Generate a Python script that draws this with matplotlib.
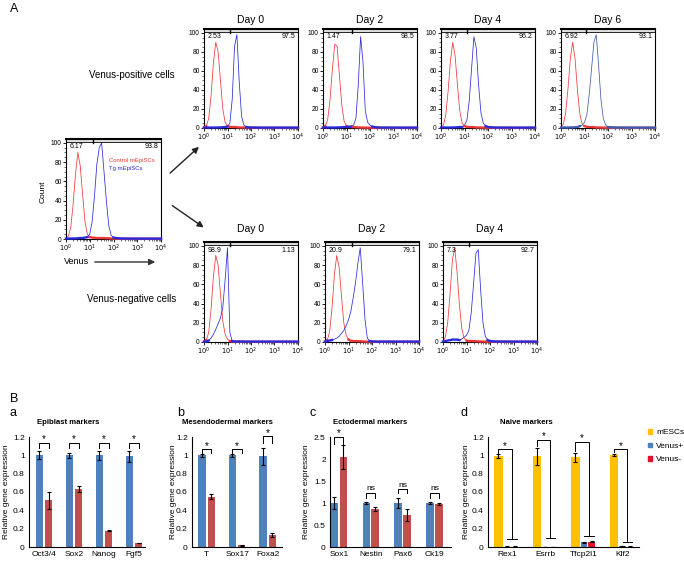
import numpy as np
import matplotlib.pyplot as plt
from matplotlib.ticker import MultipleLocator, FixedLocator
from matplotlib.patches import Patch

plt.rcParams['font.family'] = ['Liberation Sans', 'DejaVu Sans']

W, H = 684, 562

# ---------------- data: flow histograms (x in log10 decades, y = % of max) ----------------
decades = [0.0, 0.1, 0.2, 0.3, 0.4, 0.5, 0.6, 0.7, 0.8, 0.9, 1.0, 1.1, 1.2, 1.3, 1.4,
           1.5, 1.6, 1.7, 1.8, 1.9, 2.0, 2.1, 2.2, 2.3, 2.4, 3.0, 4.0]

red_ctrl = [1, 3, 12, 36, 68, 90, 76, 46, 18, 5, 2, 1.5, 1.2, 1, 1, 1, 1, 0.8, 0.8, 0.5, 0.4, 0.3, 0.3, 0.2, 0.2, 0.2, 0.2]
blue_tg = [0.5, 0.5, 0.5, 0.6, 0.6, 0.8, 1, 1, 1.5, 2, 5, 18, 45, 78, 95, 100, 70, 40, 14, 4, 1.5, 1, 0.8, 0.6, 0.5, 0.4, 0.4]

red_p0 = [0.5, 2, 10, 34, 68, 90, 80, 50, 20, 6, 2, 1.2, 1, 1, 0.8, 0.6, 0.5, 0.5, 0.4, 0.4, 0.3, 0.3, 0.3, 0.2, 0.2, 0.2, 0.2]
blue_p0 = [0.5, 0.5, 0.5, 0.5, 0.5, 0.5, 0.6, 0.6, 0.8, 1, 1.5, 5, 30, 86, 98, 48, 12, 3, 1, 0.6, 0.5, 0.5, 0.5, 0.4, 0.4, 0.4, 0.4]
red_p2 = [0.5, 2, 9, 30, 62, 88, 86, 55, 24, 7, 2, 1.2, 1, 1, 0.8, 0.6, 0.5, 0.5, 0.4, 0.4, 0.3, 0.3, 0.3, 0.2, 0.2, 0.2, 0.2]
blue_p2 = [0.5, 0.5, 0.5, 0.5, 0.5, 0.5, 0.6, 0.6, 0.8, 1, 1, 1.2, 1.5, 3, 10, 45, 96, 70, 18, 6, 3, 1.5, 1, 0.6, 0.5, 0.4, 0.4]
red_p4 = [0.5, 3, 13, 38, 70, 90, 76, 45, 18, 5, 2, 1.2, 1, 1, 0.8, 0.6, 0.5, 0.5, 0.4, 0.4, 0.3, 0.3, 0.3, 0.2, 0.2, 0.2, 0.2]
blue_p4 = [0.5, 0.5, 0.5, 0.5, 0.5, 0.6, 0.6, 0.8, 1, 1, 3, 8, 28, 62, 96, 84, 45, 16, 5, 2, 1, 0.8, 0.6, 0.5, 0.5, 0.4, 0.4]
red_p6 = [1, 4, 16, 42, 74, 90, 72, 40, 15, 4, 2, 1.2, 1, 1, 0.8, 0.6, 0.5, 0.5, 0.4, 0.4, 0.3, 0.3, 0.3, 0.2, 0.2, 0.2, 0.2]
blue_p6 = [0.5, 0.5, 0.5, 0.5, 0.6, 0.6, 0.8, 1, 2, 3, 6, 14, 35, 62, 90, 98, 66, 30, 10, 3, 1, 0.8, 0.6, 0.5, 0.5, 0.4, 0.4]

red_n0 = [0.5, 2, 10, 34, 68, 90, 80, 50, 22, 8, 3, 1, 0.5, 0.5, 0.4, 0.4, 0.3, 0.3, 0.3, 0.2, 0.2, 0.2, 0.2, 0.2, 0.2, 0.2, 0.2]
blue_n0 = [0.5, 0.5, 1.5, 4, 8, 13, 19, 25, 36, 65, 98, 10, 1, 0.5, 0.5, 0.5, 0.5, 0.4, 0.4, 0.4, 0.4, 0.4, 0.4, 0.4, 0.4, 0.4, 0.4]
red_n2 = [0.5, 2, 11, 36, 70, 90, 78, 48, 20, 7, 2.5, 1.2, 1, 1, 0.8, 0.8, 0.6, 0.5, 0.4, 0.4, 0.3, 0.3, 0.3, 0.2, 0.2, 0.2, 0.2]
blue_n2 = [0.5, 1, 1.5, 2, 3, 4, 6, 9, 12, 17, 23, 32, 46, 62, 82, 98, 62, 24, 4, 1, 0.5, 0.5, 0.4, 0.4, 0.4, 0.4, 0.4]
red_n4 = [1, 5, 20, 50, 85, 98, 72, 38, 14, 4, 1.5, 1, 1, 0.8, 0.8, 0.6, 0.5, 0.5, 0.4, 0.4, 0.3, 0.3, 0.3, 0.2, 0.2, 0.2, 0.2]
blue_n4 = [0.5, 1, 1.5, 2, 2.5, 2.5, 2.5, 2, 3, 5, 7, 12, 30, 60, 92, 96, 55, 20, 6, 2, 1, 0.8, 0.6, 0.5, 0.5, 0.4, 0.4]

gates = [1.12, 1.12, 1.25, 1.10, 1.08, 1.10, 1.15, 1.11]
pct_lo = ['6.17', '2.53', '1.47', '3.77', '6.92', '98.9', '20.9', '7.3']
pct_hi = ['93.8', '97.5', '98.5', '96.2', '93.1', '1.13', '79.1', '92.7']
days_pos = ['Day 0', 'Day 2', 'Day 4', 'Day 6']
days_neg = ['Day 0', 'Day 2', 'Day 4']

# ---------------- data: qPCR bars ----------------
a_genes = ['Oct3/4', 'Sox2', 'Nanog', 'Fgf5']
a_pos = [1.0, 1.0, 1.0, 0.99]
a_pos_err = [0.045, 0.03, 0.05, 0.06]
a_neg = [0.51, 0.63, 0.18, 0.044]
a_neg_err = [0.09, 0.035, 0.005, 0.005]

b_genes = ['T', 'Sox17', 'Foxa2']
b_pos = [1.0, 1.0, 0.99]
b_pos_err = [0.02, 0.015, 0.09]
b_neg = [0.55, 0.02, 0.13]
b_neg_err = [0.03, 0.005, 0.02]

c_genes = ['Sox1', 'Nestin', 'Pax6', 'Ck19']
c_pos = [1.0, 1.0, 1.0, 1.0]
c_pos_err = [0.14, 0.03, 0.12, 0.02]
c_neg = [2.05, 0.86, 0.72, 0.97]
c_neg_err = [0.27, 0.04, 0.14, 0.02]
c_sig = ['*', 'ns', 'ns', 'ns']

d_genes = ['Rex1', 'Esrrb', 'Tfcp2l1', 'Klf2']
d_mesc = [0.99, 0.99, 0.98, 1.0]
d_mesc_err = [0.02, 0.09, 0.05, 0.012]
d_vpos = [0.005, 0.0, 0.05, 0.01]
d_vpos_err = [0.002, 0.0, 0.008, 0.003]
d_vneg = [0.005, 0.0, 0.06, 0.004]
d_vneg_err = [0.002, 0.0, 0.01, 0.002]

# ---------------- drawing ----------------
fig = plt.figure(figsize=(W / 100, H / 100), dpi=100)


def box(l, t, r, b):
    return [l / W, 1 - b / H, (r - l) / W, (b - t) / H]


def ftext(x, y, s, **kw):
    fig.text(x / W, 1 - y / H, s, **kw)


RED = '#EE3838'
BLUE = '#2A2ADC'


def flow(rect, red, blue, gate, lo, hi, blue_col=BLUE):
    ax = fig.add_axes(box(*rect))
    x = np.array(decades)
    red = np.array(red, float)
    blue = np.array(blue, float)
    ax.plot(x, red, color=RED, lw=0.55)
    ax.plot(x, np.where(red < 3, red, np.nan), color=RED, lw=1.7, zorder=3, clip_on=False)
    ax.plot(x, blue, color=blue_col, lw=0.55)
    ax.plot(x, np.where(blue < 3, blue, np.nan), color=blue_col, lw=1.7, zorder=3, clip_on=False)
    ax.set_xlim(0, 4)
    ax.set_ylim(0, 104)
    ax.axhspan(101.2, 104, color='#dedede', lw=0)
    ax.axhline(101.2, color='k', lw=0.6)
    ax.plot([gate, gate], [100.0, 104], color='k', lw=1.0)
    ax.spines['top'].set_linewidth(1.5)
    for s in ['left', 'right', 'bottom']:
        ax.spines[s].set_linewidth(0.8)
    ax.set_xticks(range(5))
    ax.set_xticklabels([r'$10^{%d}$' % i for i in range(5)])
    ax.xaxis.set_minor_locator(FixedLocator([np.log10(m) + d for d in range(4) for m in range(2, 10)]))
    ax.set_yticks(range(0, 101, 20))
    ax.yaxis.set_minor_locator(MultipleLocator(5))
    ax.tick_params(which='major', direction='out', length=2, width=0.6, labelsize=4.8, pad=1)
    ax.tick_params(which='minor', direction='out', length=1.2, width=0.4)
    ax.text(0.04, 0.955, lo, transform=ax.transAxes, fontsize=5, va='top')
    ax.text(0.97, 0.955, hi, transform=ax.transAxes, fontsize=5, va='top', ha='right')
    return ax


# left reference histogram
ax0 = flow((66, 139, 161, 239), red_ctrl, blue_tg, gates[0], pct_lo[0], pct_hi[0])
ax0.text(0.45, 0.77, 'Control mEpiSCs', transform=ax0.transAxes, color=RED, fontsize=4.3)
ax0.text(0.45, 0.69, 'Tg mEpiSCs', transform=ax0.transAxes, color=BLUE, fontsize=4.3)
ftext(43, 192, 'Count', rotation=90, fontsize=6, ha='center', va='center')
ftext(77, 262, 'Venus', fontsize=6.5, ha='center', va='center')

# Venus-positive row
top_left = [204, 323, 441, 561]
pos_red = [red_p0, red_p2, red_p4, red_p6]
pos_blue = [blue_p0, blue_p2, blue_p4, blue_p6]
for i, l in enumerate(top_left):
    col = '#3F5CB0' if i == 3 else BLUE
    flow((l, 29, l + 94, 128), pos_red[i], pos_blue[i], gates[1 + i], pct_lo[1 + i], pct_hi[1 + i], col)
    ftext(l + 47, 20, days_pos[i], fontsize=7.5, ha='center', va='center')

# Venus-negative row
bot_left = [204, 325, 443]
neg_red = [red_n0, red_n2, red_n4]
neg_blue = [blue_n0, blue_n2, blue_n4]
for i, l in enumerate(bot_left):
    flow((l, 242, l + 94, 342), neg_red[i], neg_blue[i], gates[5 + i], pct_lo[5 + i], pct_hi[5 + i])
    ftext(l + 47, 229, days_neg[i], fontsize=7.5, ha='center', va='center')

ftext(132, 75, 'Venus-positive cells', fontsize=7, ha='center', va='center')
ftext(132, 299, 'Venus-negative cells', fontsize=7, ha='center', va='center')

# ---------------- bar charts ----------------
B_BLUE = '#4F81BD'
B_RED = '#C0504D'
GOLD = '#FFC000'
V_RED = '#E3122B'
ekw = dict(lw=0.8, capsize=1.6, capthick=0.8, ecolor='k')


def bar_axes(rect, ymax, step, xlim):
    ax = fig.add_axes(box(*rect))
    ax.set_ylim(0, ymax)
    ax.set_xlim(*xlim)
    ticks = np.arange(0, ymax + 1e-9, step)
    ax.set_yticks(ticks)
    ax.set_yticklabels(['%g' % t for t in ticks])
    for s in ['top', 'right']:
        ax.spines[s].set_visible(False)
    for s in ['left', 'bottom']:
        ax.spines[s].set_linewidth(0.8)
    ax.tick_params(axis='y', length=0, labelsize=6, pad=3)
    ax.tick_params(axis='x', length=0, labelsize=6, pad=3)
    return ax


def bracket(ax, x1, x2, y1, y2, top, label, dy, fs):
    ax.plot([x1, x1, x2, x2], [y1, top, top, y2], color='k', lw=0.7, clip_on=False)
    ax.text((x1 + x2) / 2, top + dy, label, ha='center', va='center', fontsize=fs, clip_on=False)


def pair_panel(ax, genes, pos, pos_err, neg, neg_err, off, tops, legs, labels, dy):
    x = np.arange(len(genes))
    ax.bar(x - off, pos, 0.235, yerr=pos_err, color=B_BLUE, error_kw=ekw)
    ax.bar(x + off, neg, 0.235, yerr=neg_err, color=B_RED, error_kw=ekw)
    ax.set_xticks(x)
    ax.set_xticklabels(genes)
    for i in range(len(genes)):
        fs = 7 if labels[i] == '*' else 6
        bracket(ax, x[i] - off, x[i] + off, tops[i] - legs[i], tops[i] - legs[i], tops[i], labels[i], dy, fs)


ax_a = bar_axes((29, 437, 145, 547), 1.2, 0.2, (-0.5, 3.37))
pair_panel(ax_a, a_genes, a_pos, a_pos_err, a_neg, a_neg_err, 0.16,
           [1.14] * 4, [0.065] * 4, ['*'] * 4, 0.035)
ax_b = bar_axes((192, 437, 282, 547), 1.2, 0.2, (-0.48, 2.47))
pair_panel(ax_b, b_genes, b_pos, b_pos_err, b_neg, b_neg_err, 0.155,
           [1.07, 1.07, 1.21], [0.04, 0.04, 0.07], ['*'] * 3, 0.035)
ax_c = bar_axes((330, 437, 451, 547), 2.5, 0.5, (-0.28, 3.52))
pair_panel(ax_c, c_genes, c_pos, c_pos_err, c_neg, c_neg_err, 0.14,
           [2.5, 1.23, 1.31, 1.23], [0.15, 0.11, 0.09, 0.12], c_sig, 0.09)

ax_d = bar_axes((488, 437, 639, 547), 1.2, 0.2, (-0.49, 3.43))
xd = np.arange(len(d_genes))
ax_d.bar(xd - 0.22, d_mesc, 0.22, yerr=d_mesc_err, color=GOLD, error_kw=ekw, label='mESCs')
ax_d.bar(xd, d_vpos, 0.17, yerr=d_vpos_err, color=B_BLUE, error_kw=ekw, label='Venus+')
ax_d.bar(xd + 0.2, d_vneg, 0.17, yerr=d_vneg_err, color=V_RED, error_kw=ekw, label='Venus-')
ax_d.set_xticks(xd)
ax_d.set_xticklabels(d_genes)
d_tops = [1.07, 1.17, 1.15, 1.07]
d_caps = [0.085, 0.1, 0.12, 0.06]
for i in range(len(d_genes)):
    xl = xd[i] - 0.22
    xr = xd[i] + 0.13
    y1 = d_mesc[i] + d_mesc_err[i] + 0.02
    ax_d.plot([xl, xl, xr, xr], [y1, d_tops[i], d_tops[i], d_caps[i]], color='k', lw=0.7, clip_on=False)
    ax_d.plot([xr - 0.12, xr + 0.12], [d_caps[i], d_caps[i]], color='k', lw=0.7)
    ax_d.text((xl + xr) / 2, d_tops[i] + 0.035, '*', ha='center', va='center', fontsize=7, clip_on=False)

fig.legend(handles=[Patch(color=GOLD, label='mESCs'), Patch(color=B_BLUE, label='Venus+'),
                    Patch(color=V_RED, label='Venus-')],
           loc='upper left', bbox_to_anchor=(644 / W, 1 - 425 / H), frameon=False, fontsize=6,
           handlelength=0.45, handleheight=0.45, handletextpad=0.5, labelspacing=0.75, borderpad=0)

# panel titles and ylabels
for cx, title in [(68, 'Epiblast markers'), (227, 'Mesendodermal markers'),
                  (370, 'Ectodermal markers'), (526, 'Naive markers')]:
    ftext(cx, 422, title, fontsize=5.6, fontweight='bold', ha='center', va='center')
for xl in [7, 173, 306, 466]:
    ftext(xl, 492, 'Relative gene expression', rotation=90, fontsize=6, ha='center', va='center')
for x, y, s in [(13, 413, 'a'), (181, 413, 'b'), (313, 413, 'c'), (464, 413, 'd')]:
    ftext(x, y, s, fontsize=9, ha='center', va='center')
ftext(14, 9, 'A', fontsize=9, ha='center', va='center')
ftext(14, 399, 'B', fontsize=9, ha='center', va='center')

# arrows
ov = fig.add_axes([0, 0, 1, 1], facecolor='none')
ov.set_xlim(0, W)
ov.set_ylim(H, 0)
ov.axis('off')
akw = dict(arrowstyle='-|>', color='#222222', lw=1.0, mutation_scale=9)
ov.annotate('', xy=(201, 145), xytext=(168, 175), arrowprops=akw)
ov.annotate('', xy=(206, 229), xytext=(170, 204), arrowprops=akw)
ov.annotate('', xy=(158, 262), xytext=(92, 262), arrowprops=dict(arrowstyle='-|>', color='#333333', lw=1.0, mutation_scale=9))

fig.savefig('out.png', dpi=100)
